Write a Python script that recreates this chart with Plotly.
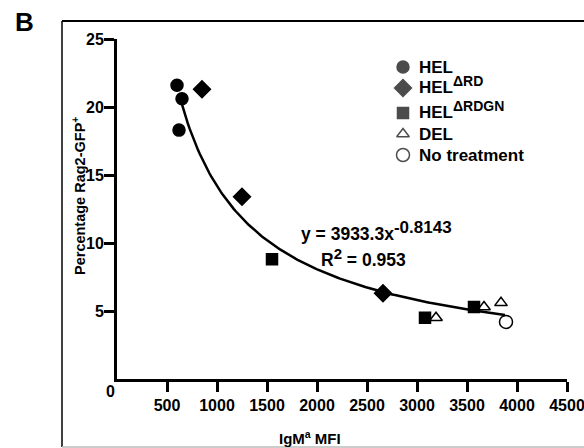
import numpy as np
import plotly.graph_objects as go

# Data
hel_x = [600, 650, 620]
hel_y = [21.6, 20.6, 18.3]
helrd_x = [850, 1250, 2660]
helrd_y = [21.3, 13.4, 6.3]
helrdgn_x = [1550, 3080, 3570]
helrdgn_y = [8.8, 4.5, 5.3]
del_x = [3190, 3670, 3840]
del_y = [4.5, 5.3, 5.6]
none_x = [3890]
none_y = [4.2]

# Power-law fit shown on the chart
fit_a = 3933.3
fit_b = -0.8143
fit_r2 = 0.953
fit_xmin, fit_xmax = 630, 3880

x_ticks = [500, 1000, 1500, 2000, 2500, 3000, 3500, 4000, 4500]
y_ticks = [5, 10, 15, 20, 25]

legend_names = ["HEL", "HEL<sup><span style='font-size:14px'>ΔRD</span></sup>",
                "HEL<sup><span style='font-size:14px'>ΔRDGN</span></sup>", "DEL",
                "No treatment"]
legend_symbols = ["circle", "diamond", "square", "triangle-up-open", "circle-open"]
legend_sizes = [12, 13, 11, 11, 13]

FONT = "Liberation Sans"

L, R, T, B = 117, 17, 39, 69
W, H = 584, 448
pw, ph = W - L - R, H - T - B

def px(x):
    return (x - L) / pw

def py(y):
    return (H - B - y) / ph

fig = go.Figure()

fx = np.linspace(fit_xmin, fit_xmax, 200)
fig.add_trace(go.Scatter(x=fx, y=fit_a * fx ** fit_b, mode="lines",
                         line=dict(color="black", width=2.5), showlegend=False,
                         hoverinfo="skip"))

series = [(hel_x, hel_y), (helrd_x, helrd_y), (helrdgn_x, helrdgn_y),
          (del_x, del_y), (none_x, none_y)]
for (xs, ys), sym, sz in zip(series, legend_symbols, legend_sizes):
    fig.add_trace(go.Scatter(x=xs, y=ys, mode="markers", showlegend=False,
                             marker=dict(symbol=sym, size=sz, color="black",
                                         line=dict(color="black", width=1.5))))

# manual legend (overlay axis in plot-fraction units)
leg_marker_x = 403
leg_rows = [67, 88, 113, 134, 155]
fig.add_trace(go.Scatter(x=[px(leg_marker_x)] * 5, y=[py(r) for r in leg_rows],
                         mode="markers", xaxis="x2", yaxis="y2", showlegend=False,
                         hoverinfo="skip",
                         marker=dict(symbol=legend_symbols, size=legend_sizes,
                                     color="black", line=dict(color="black", width=1.5))))
leg_text_shift = [0, -3, -3, 0, 0]
for name, r, s in zip(legend_names, leg_rows, leg_text_shift):
    fig.add_annotation(xref="paper", yref="paper", x=px(417), y=py(r + s),
                       xanchor="left", yanchor="middle", showarrow=False,
                       text=f"<b>{name}</b>",
                       font=dict(family=FONT, size=17, color="black"))

axis_common = dict(ticks="outside", ticklen=10, tickwidth=3, tickcolor="black",
                   showline=True, linewidth=3, linecolor="black", showgrid=False,
                   zeroline=False, automargin=False, ticklabeloverflow="allow",
                   tickfont=dict(family=FONT, size=16, color="black"))

fig.update_layout(
    width=W, height=H,
    margin=dict(l=L, r=R, t=T, b=B),
    paper_bgcolor="white", plot_bgcolor="white",
    font=dict(family=FONT, color="black", size=14),
    xaxis=dict(range=[0, 4500], tickvals=x_ticks,
               ticktext=[f"<b>{v}</b>" for v in x_ticks], **axis_common),
    yaxis=dict(range=[0, 25], tickvals=y_ticks,
               ticktext=[f"<b>{v}</b>" for v in y_ticks],
               ticklabelstandoff=-3, **axis_common),
    xaxis2=dict(overlaying="x", range=[0, 1], visible=False),
    yaxis2=dict(overlaying="y", range=[0, 1], visible=False),
    showlegend=False,
)

# frame
fig.add_shape(type="line", xref="paper", yref="paper", x0=px(62), x1=px(590),
              y0=py(21), y1=py(21), line=dict(color="black", width=2))
fig.add_shape(type="line", xref="paper", yref="paper", x0=px(62), x1=px(62),
              y0=py(21), y1=py(447), line=dict(color="black", width=1.5))
fig.add_shape(type="line", xref="paper", yref="paper", x0=px(62), x1=px(590),
              y0=py(447), y1=py(447), line=dict(color="#bbbbbb", width=1.5))

ann = [
    dict(text="<b>B</b>", x=px(24), y=py(22.5), size=26, xanchor="center"),
    dict(text="<b>0</b>", x=px(110), y=py(391), size=16, xanchor="center"),
    dict(text="<b>IgM<sup>a</sup> MFI</b>", x=px(310), y=py(437), size=15,
         xanchor="center"),
    dict(text="<b>Percentage Rag2-GFP<sup>+</sup></b>", x=px(79), y=py(196),
         size=14.5, xanchor="center", textangle=-90),
    dict(text=f"<b>y = {fit_a}x<sup><span style='font-size:17px'>{fit_b}</span></sup></b>",
         x=px(299), y=py(231), size=17.5, xanchor="left"),
    dict(text=f"<b>R<sup><span style='font-size:15px'>2</span></sup> = {fit_r2}</b>",
         x=px(319), y=py(257), size=17.5, xanchor="left"),
]
for a in ann:
    size = a.pop("size")
    fig.add_annotation(xref="paper", yref="paper", showarrow=False,
                       yanchor="middle",
                       font=dict(family=FONT, color="black", size=size), **a)

fig.write_html("out.html")
